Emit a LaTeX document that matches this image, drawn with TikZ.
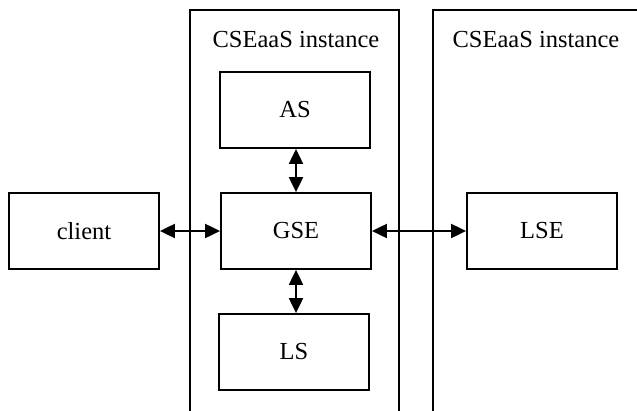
\documentclass[tikz,border=0pt]{standalone}
\usepackage{fontspec}
\setmainfont{Liberation Serif}
\usetikzlibrary{arrows.meta}
\begin{document}
\begin{tikzpicture}[x=1pt,y=-1pt,
  box/.style={draw,line width=1.8pt,minimum width=150pt,minimum height=76pt,inner sep=0pt,font=\fontsize{24.5}{28}\selectfont},
  frame/.style={draw,line width=1.8pt},
  lbl/.style={font=\fontsize{24.5}{28}\selectfont,inner sep=0pt},
  link/.style={line width=2pt,{Triangle[length=15pt,width=14pt]}-{Triangle[length=15pt,width=14pt]}}]
\useasboundingbox (0,0) rectangle (637,410);
\draw[frame] (190,412) -- (190,10) -- (399,10) -- (399,412);
\draw[frame] (433,412) -- (433,10) -- (639,10);
\node[lbl] (title1) at (296,40) {CSEaaS instance};
\node[lbl] (title2) at (536,40) {CSEaaS instance};
\node[box] (client) at (84,231) {client};
\node[box] (gse) at (296,231) {GSE};
\node[box] (lse) at (542,231) {LSE};
\node[box] (as) at (295,110) {AS};
\node[box] (ls) at (294,352) {LS};
\draw[link] (client.east) -- (gse.west);
\draw[link] (gse.east) -- (lse.west);
\draw[link] (as.south -| gse.north) -- (gse.north);
\draw[link] (gse.south) -- (gse.south |- ls.north);
\end{tikzpicture}
\end{document}
